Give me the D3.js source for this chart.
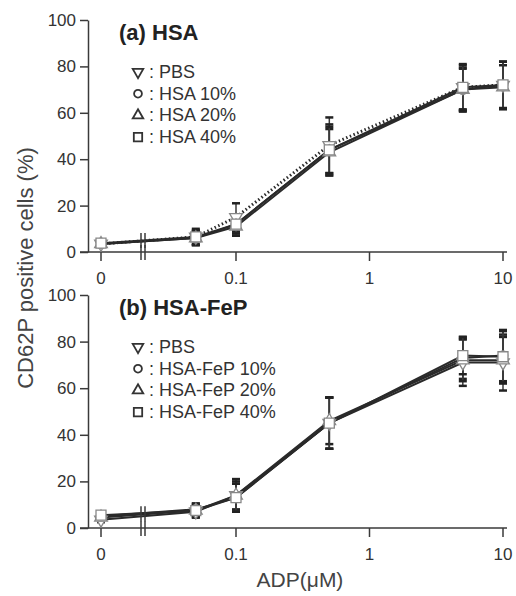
<!DOCTYPE html>
<html>
<head>
<meta charset="utf-8">
<script src="https://cdn.jsdelivr.net/npm/d3@7"></script>
<style>
  body { margin: 0; background: #fff; }
  svg { display: block; font-family: "Liberation Sans", Arial, sans-serif; }
</style>
</head>
<body>
<div id="chart"></div>
<script>
// ADP concentrations (uM), 0 is drawn left of an axis break
const doses = [0, 0.05, 0.1, 0.5, 5, 10];
const xTicks = [0, 0.1, 1, 10];
const yTicks = [0, 20, 40, 60, 80, 100];

// (a) HSA, mean and error
const hsaPBS = [3.5, 6.5, 15, 46, 71, 72];
const hsa10 = [3.5, 6, 12, 44, 70, 72];
const hsa20 = [3.5, 6, 11, 43, 70, 71];
const hsa40 = [3.8, 6.5, 12, 44, 71, 72];
const hsaPBSErr = [1, 3.5, 6, 12, 10, 10];
const hsa10Err = [1, 3, 4, 11, 9.5, 10];
const hsa20Err = [1, 3, 4, 10, 9, 9.5];
const hsa40Err = [1, 3, 4, 10, 9.5, 10];

// (b) HSA-FeP, mean and error
const fepPBS = [3.5, 7, 14, 45, 71, 71];
const fep10 = [5, 8, 13, 45, 73, 74];
const fep20 = [4.5, 7.5, 14, 46, 72, 72];
const fep40 = [5.5, 7.5, 13, 45, 74, 73.5];
const fepPBSErr = [1, 2.5, 7, 11, 10, 12];
const fep10Err = [1, 2.5, 6, 11, 9, 11];
const fep20Err = [1, 2.5, 6, 10, 9, 10];
const fep40Err = [1, 3, 6, 11, 8, 11];

const legendA = [": PBS", ": HSA 10%", ": HSA 20%", ": HSA 40%"];
const legendB = [": PBS", ": HSA-FeP 10%", ": HSA-FeP 20%", ": HSA-FeP 40%"];

const width = 516, height = 596;
const ink = "#3a3a3a";

const svg = d3.select("#chart").append("svg")
    .attr("width", width)
    .attr("height", height);

// x: 0 sits at its own spot, the rest on a log scale
const xLog = d3.scaleLog().domain([0.1, 10]).range([236, 503]);
const xZero = 101;
const xPos = v => v === 0 ? xZero : xLog(v);
const axisLeftX = 88;
const breakX = 143;

const symbols = [
    {type: d3.symbolTriangle, rot: 180},
    {type: d3.symbolCircle, rot: 0},
    {type: d3.symbolTriangle, rot: 0},
    {type: d3.symbolSquare, rot: 0}
];

function drawPanel(y, title, legend, series) {
    const y0 = y(0);

    // y axis
    const yAxis = svg.append("g")
        .attr("transform", "translate(" + axisLeftX + ",0)")
        .call(d3.axisLeft(y).tickValues(yTicks).tickSize(8).tickSizeOuter(0).tickPadding(4));
    yAxis.select(".domain").attr("stroke", ink).attr("stroke-width", 1.5);
    yAxis.selectAll(".tick line").attr("stroke", ink).attr("stroke-width", 1.5);
    yAxis.selectAll(".tick text").attr("fill", "#333").style("font-size", "17px");

    // x axis line and ticks
    svg.append("line")
        .attr("x1", 80).attr("x2", 507)
        .attr("y1", y0).attr("y2", y0)
        .attr("stroke", ink).attr("stroke-width", 1.5);
    const xt = svg.append("g").selectAll("g")
        .data(xTicks).enter().append("g")
        .attr("transform", d => "translate(" + xPos(d) + "," + y0 + ")");
    xt.append("line").attr("y2", 9).attr("stroke", ink).attr("stroke-width", 1.5);
    xt.append("text")
        .attr("y", 32)
        .attr("text-anchor", "middle")
        .attr("fill", "#333")
        .style("font-size", "17px")
        .text(d => d);

    // axis break marks
    [-2, 2].forEach(dx => {
        svg.append("line")
            .attr("x1", breakX + dx).attr("x2", breakX + dx)
            .attr("y1", y0 - 7).attr("y2", y0 + 8)
            .attr("stroke", ink).attr("stroke-width", 1.5);
    });

    // lines
    const line = d3.line().x((d, i) => xPos(doses[i])).y(d => y(d));
    series.forEach(s => {
        svg.append("path")
            .datum(s.values)
            .attr("fill", "none")
            .attr("stroke", "#2a2a2a")
            .attr("stroke-width", s.dotted ? 3 : 2)
            .attr("stroke-dasharray", s.dotted ? "1.5,2.5" : null)
            .attr("d", line);
    });

    // break marks across the lines between 0 and 0.05
    const t = (breakX - xPos(doses[0])) / (xPos(doses[1]) - xPos(doses[0]));
    const vals = series.map(s => s.values[0] + t * (s.values[1] - s.values[0]));
    const yb = y(d3.mean(vals));
    [-2, 2].forEach(dx => {
        svg.append("line")
            .attr("x1", breakX + dx).attr("x2", breakX + dx)
            .attr("y1", yb - 8).attr("y2", yb + 7)
            .attr("stroke", ink).attr("stroke-width", 1.5);
    });

    // error bars
    series.forEach(s => {
        const eb = svg.append("g").selectAll("g")
            .data(s.values.map((v, i) => ({x: doses[i], v: v, e: s.err[i]})))
            .enter().append("g");
        eb.append("line")
            .attr("x1", d => xPos(d.x)).attr("x2", d => xPos(d.x))
            .attr("y1", d => y(d.v + d.e)).attr("y2", d => y(d.v - d.e))
            .attr("stroke", ink).attr("stroke-width", 1.5);
        eb.append("line")
            .attr("x1", d => xPos(d.x) - 4).attr("x2", d => xPos(d.x) + 4)
            .attr("y1", d => y(d.v + d.e)).attr("y2", d => y(d.v + d.e))
            .attr("stroke", "#222").attr("stroke-width", 2.5);
        eb.append("line")
            .attr("x1", d => xPos(d.x) - 4).attr("x2", d => xPos(d.x) + 4)
            .attr("y1", d => y(d.v - d.e)).attr("y2", d => y(d.v - d.e))
            .attr("stroke", "#222").attr("stroke-width", 2.5);
    });

    // markers
    series.forEach((s, k) => {
        svg.append("g").selectAll("path")
            .data(s.values)
            .enter().append("path")
            .attr("d", d3.symbol().type(symbols[k].type).size(k === 3 ? 100 : 70))
            .attr("transform", (d, i) => "translate(" + xPos(doses[i]) + "," + y(d) + ") rotate(" + symbols[k].rot + ")")
            .attr("fill", "#fff")
            .attr("stroke", "#888")
            .attr("stroke-width", 1.3);
    });

    // title
    svg.append("text")
        .attr("x", 119)
        .attr("y", y(100) + 20)
        .attr("fill", "#222")
        .style("font-size", "22px")
        .style("font-weight", "bold")
        .text(title);

    // legend
    const lg = svg.append("g").selectAll("g")
        .data(legend).enter().append("g")
        .attr("transform", (d, i) => "translate(138," + (y(100) + 52 + i * 21.7) + ")");
    lg.append("path")
        .attr("d", (d, i) => d3.symbol().type(symbols[i].type).size(i === 3 ? 70 : 48)())
        .attr("transform", (d, i) => "rotate(" + symbols[i].rot + ")")
        .attr("fill", "#fff")
        .attr("stroke", "#333")
        .attr("stroke-width", 1.8);
    lg.append("text")
        .attr("x", 11)
        .attr("y", 6)
        .attr("fill", "#333")
        .style("font-size", "18px")
        .text(d => d);
}

const yA = d3.scaleLinear().domain([0, 100]).range([252, 20]);
const yB = d3.scaleLinear().domain([0, 100]).range([528, 295]);

drawPanel(yA, "(a) HSA", legendA, [
    {values: hsaPBS, err: hsaPBSErr, dotted: true},
    {values: hsa10, err: hsa10Err},
    {values: hsa20, err: hsa20Err},
    {values: hsa40, err: hsa40Err}
]);

drawPanel(yB, "(b) HSA-FeP", legendB, [
    {values: fepPBS, err: fepPBSErr},
    {values: fep10, err: fep10Err},
    {values: fep20, err: fep20Err},
    {values: fep40, err: fep40Err}
]);

// axis titles
svg.append("text")
    .attr("transform", "translate(33,268) rotate(-90)")
    .attr("text-anchor", "middle")
    .attr("fill", "#444")
    .style("font-size", "22px")
    .text("CD62P positive cells (%)");

svg.append("text")
    .attr("x", 300)
    .attr("y", 587)
    .attr("text-anchor", "middle")
    .attr("fill", "#444")
    .style("font-size", "21px")
    .text("ADP(\u03bcM)");
</script>
</body>
</html>
